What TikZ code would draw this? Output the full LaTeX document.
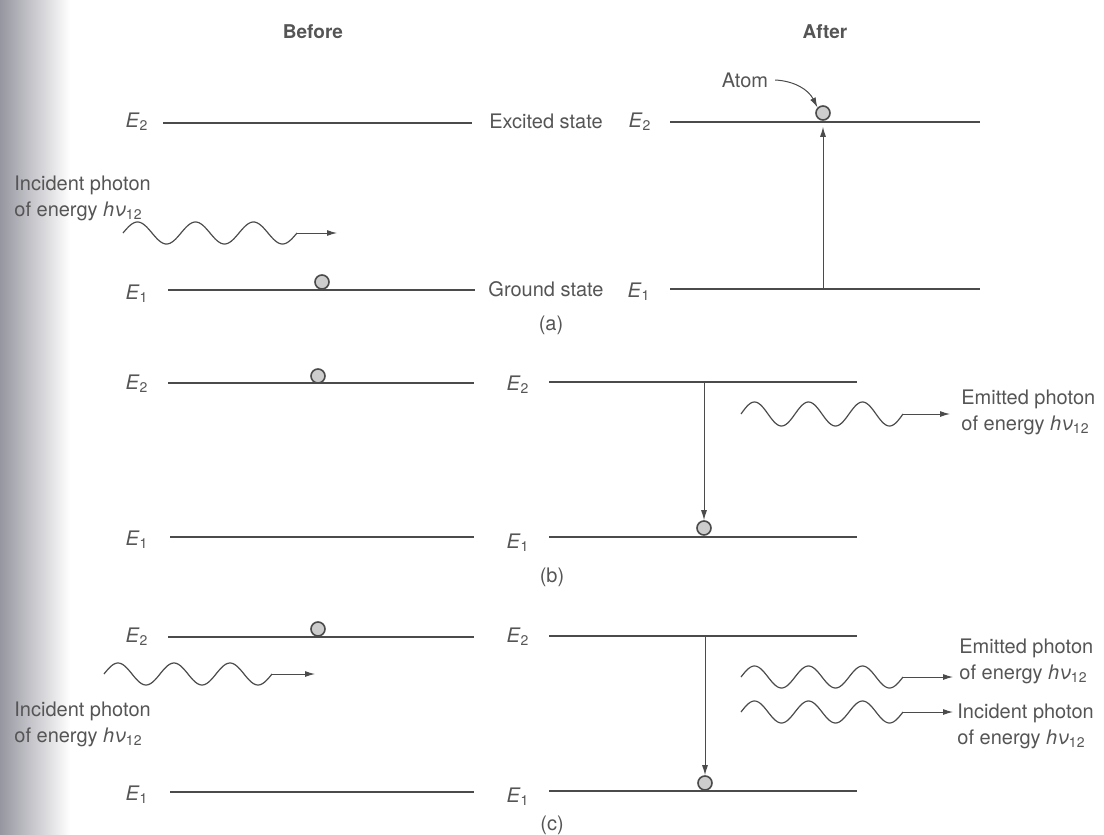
\documentclass[tikz,border=0pt]{standalone}
\usepackage{fontspec}
\setmainfont{TeX Gyre Heros}
\usepackage{xcolor}
\usepackage{tikz}
\usetikzlibrary{arrows.meta,backgrounds}
\definecolor{clrInk}{RGB}{75,75,75}
\definecolor{clrText}{RGB}{85,85,85}
\definecolor{clrAtom}{RGB}{205,205,205}
\definecolor{clrShade}{RGB}{150,150,160}
\tikzset{
  levelline/.style={draw=clrInk, line width=0.7pt},
  lvllabel/.style={text=clrText, inner sep=1pt},
  headnode/.style={text=clrText, font=\fontsize{9.5}{11}\selectfont\bfseries},
  notenode/.style={text=clrText, align=left, inner sep=0pt},
  atomnode/.style={circle, draw=clrInk, fill=clrAtom, line width=0.8pt, minimum size=7pt, inner sep=0pt},
  transarrow/.style={-{Latex[length=5pt,width=3pt]}, draw=clrInk, line width=0.5pt},
  photonwave/.style={draw=clrInk, line width=0.6pt, line join=round}
}

\begin{document}
\begin{tikzpicture}[x=0.5pt, y=-0.5pt, font=\fontsize{10}{13}\selectfont]
\useasboundingbox (0,0) rectangle (1104,835);
\begin{scope}[on background layer]
  \shade[left color=clrShade, right color=white] (0,0) rectangle (70,835);
\end{scope}

\node[headnode] (before) at (313,32) {Before};
\node[headnode] (after) at (825,32) {After};

% (a) absorption
\node[lvllabel] (aE2l) at (137,122) {\textit{E}\textsubscript{2}};
\node[lvllabel] (aE1l) at (137,294) {\textit{E}\textsubscript{1}};
\draw[levelline] (163,123) -- (472,123);
\draw[levelline] (168,290) -- (475,290);
\node[text=clrText] (excited) at (546,121) {Excited state};
\node[text=clrText] (ground) at (546,289) {Ground state};
\node[lvllabel] (aE2r) at (640,122) {\textit{E}\textsubscript{2}};
\node[lvllabel] (aE1r) at (639,292) {\textit{E}\textsubscript{1}};
\draw[levelline] (670,122) -- (980,122);
\draw[levelline] (670,289) -- (980,289);

\node[notenode, anchor=west] (aInc) at (14,198) {Incident photon\\of energy \textit{hν}\textsubscript{12}};
\coordinate (aw0) at (123,233);
\coordinate (aw1) at (297,233);
\coordinate (aw2) at (337,233);
\draw[photonwave, shift={(aw0)}] plot[domain=0:174, samples=120] (\x,{-11*sin(\x/58*360)});
\draw[transarrow] (aw1) -- (aw2);

\node[atomnode] (atomAl) at (322,282) {};
\node[atomnode] (atomAr) at (823,113) {};
\coordinate (aUp) at (823,289);
\draw[transarrow, shorten >=3pt] (aUp) -- (atomAr);
\node[text=clrText] (atomlbl) at (745,80) {Atom};
\draw[transarrow] (atomlbl.east) to[bend left=30] (atomAr.north west);

\node[text=clrText] (capa) at (551,325) {(a)};

% (b) spontaneous emission
\node[lvllabel] (bE2l) at (137,384) {\textit{E}\textsubscript{2}};
\node[lvllabel] (bE1l) at (137,540) {\textit{E}\textsubscript{1}};
\draw[levelline] (168,383) -- (474,383);
\draw[levelline] (170,537) -- (474,537);
\node[lvllabel] (bE2r) at (518,385) {\textit{E}\textsubscript{2}};
\node[lvllabel] (bE1r) at (518,543) {\textit{E}\textsubscript{1}};
\draw[levelline] (549,382) -- (857,382);
\draw[levelline] (549,537) -- (857,537);

\node[atomnode] (atomBl) at (318,376) {};
\node[atomnode] (atomBr) at (704,528) {};
\coordinate (bDn) at (704,382);
\draw[transarrow] (bDn) -- (atomBr);

\coordinate (bw0) at (741,414);
\coordinate (bw1) at (903,414);
\coordinate (bw2) at (950,414);
\draw[photonwave, shift={(bw0)}] plot[domain=0:162, samples=120] (\x,{-12*sin(\x/54*360)});
\draw[transarrow] (bw1) -- (bw2);
\node[notenode, anchor=west] (bEm) at (961,412) {Emitted photon\\of energy \textit{hν}\textsubscript{12}};

\node[text=clrText] (capb) at (552,577) {(b)};

% (c) stimulated emission
\node[lvllabel] (cE2l) at (137,637) {\textit{E}\textsubscript{2}};
\node[lvllabel] (cE1l) at (137,795) {\textit{E}\textsubscript{1}};
\draw[levelline] (168,637) -- (474,637);
\draw[levelline] (170,792) -- (474,792);
\node[lvllabel] (cE2r) at (518,637) {\textit{E}\textsubscript{2}};
\node[lvllabel] (cE1r) at (518,797) {\textit{E}\textsubscript{1}};
\draw[levelline] (549,636) -- (857,636);
\draw[levelline] (549,791) -- (857,791);

\node[atomnode] (atomCl) at (318,629) {};
\node[atomnode] (atomCr) at (705,783) {};
\coordinate (cDn) at (705,636);
\draw[transarrow] (cDn) -- (atomCr);

\coordinate (cw0) at (104,674);
\coordinate (cw1) at (272,674);
\coordinate (cw2) at (315,674);
\draw[photonwave, shift={(cw0)}] plot[domain=0:168, samples=120] (\x,{-11*sin(\x/56*360)});
\draw[transarrow] (cw1) -- (cw2);
\node[notenode, anchor=west] (cInc) at (14,724) {Incident photon\\of energy \textit{hν}\textsubscript{12}};

\coordinate (ew0) at (741,677);
\coordinate (ew1) at (903,677);
\coordinate (ew2) at (953,677);
\draw[photonwave, shift={(ew0)}] plot[domain=0:162, samples=120] (\x,{-11*sin(\x/54*360)});
\draw[transarrow] (ew1) -- (ew2);
\coordinate (iw0) at (741,712);
\coordinate (iw1) at (903,712);
\coordinate (iw2) at (953,712);
\draw[photonwave, shift={(iw0)}] plot[domain=0:162, samples=120] (\x,{-11*sin(\x/54*360)});
\draw[transarrow] (iw1) -- (iw2);
\node[notenode, anchor=west] (cEm) at (959,661) {Emitted photon\\of energy \textit{hν}\textsubscript{12}};
\node[notenode, anchor=west] (cInc2) at (957,726) {Incident photon\\of energy \textit{hν}\textsubscript{12}};

\node[text=clrText] (capc) at (552,825) {(c)};

\end{tikzpicture}
\end{document}
